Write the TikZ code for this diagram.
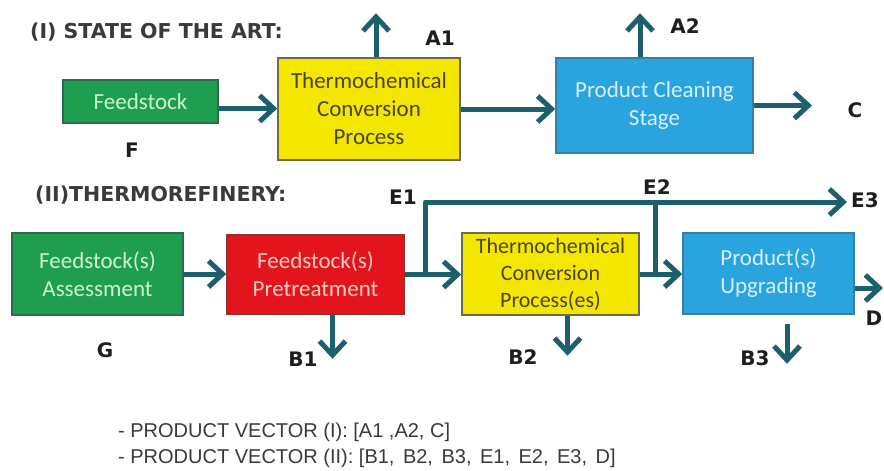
\documentclass[tikz,border=0pt]{standalone}
\usepackage{fontspec}
\setmainfont{DejaVu Sans}
\newfontfamily\boxfont{Carlito}
\newfontfamily\vecfont{Liberation Sans}
\usetikzlibrary{arrows.meta,calc}
\definecolor{arrc}{HTML}{1D5F6C}
\definecolor{labc}{HTML}{1E1E1E}
\definecolor{titc}{HTML}{3A3A3A}
\definecolor{gfill}{HTML}{1F9E50}
\definecolor{gdraw}{HTML}{2E6A50}
\definecolor{gtext}{HTML}{CDF3CF}
\definecolor{yfill}{HTML}{F3E700}
\definecolor{ydraw}{HTML}{6E6A4A}
\definecolor{ytext}{HTML}{4A4420}
\definecolor{rfill}{HTML}{E3141C}
\definecolor{rdraw}{HTML}{8C3434}
\definecolor{rtext}{HTML}{F8CCC4}
\definecolor{bfill}{HTML}{2AA4DF}
\definecolor{bdraw}{HTML}{3A7EA2}
\definecolor{btext}{HTML}{D6F0FF}
\begin{document}
\begin{tikzpicture}[x=1pt,y=-1pt,
  box/.style={draw, line width=1.5pt, align=center, inner sep=0pt,
    font=\boxfont\fontsize{23}{28}\selectfont},
  gbox/.style={box, fill=gfill, draw=gdraw, text=gtext},
  ybox/.style={box, fill=yfill, draw=ydraw, text=ytext},
  rbox/.style={box, fill=rfill, draw=rdraw, text=rtext},
  bbox/.style={box, fill=bfill, draw=bdraw, text=btext},
  lbl/.style={font=\bfseries\fontsize{20}{22}\selectfont, text=labc, inner sep=0pt},
  ttl/.style={font=\bfseries\fontsize{20.5}{24}\selectfont, text=titc, inner sep=0pt, anchor=west},
  vec/.style={font=\vecfont\fontsize{20}{24}\selectfont, text=titc, inner sep=0pt, anchor=west},
  flow/.style={draw=arrc, line width=5pt, line join=round, -{Straight Barb[length=14pt,width=26pt]}},
  plain/.style={draw=arrc, line width=5pt},
]
\useasboundingbox (0,0) rectangle (884,471);
\fill[white] (0,0) rectangle (884,471);

% ---------- (I) ----------
\node[ttl] (t1) at (30,32) {(I) STATE OF THE ART:};
\node[gbox, minimum width=155pt, minimum height=43pt] (fs1) at (140.5,101.5) {Feedstock};
\node[ybox, minimum width=182pt, minimum height=102pt] (tc1) at (369,109) {Thermochemical\\Conversion\\Process};
\node[bbox, minimum width=197pt, minimum height=95pt] (pc1) at (654.5,105.5) {Product Cleaning\\Stage};

\coordinate (f1) at ($(fs1.east)+(0,7)$);
\draw[flow] (f1) -- (f1 -| tc1.west);
\draw[flow] (tc1.east) -- (tc1.east -| pc1.west);
\coordinate (cend) at (812,106);
\draw[flow] (pc1.east) -- (pc1.east -| cend);
\draw[flow] ([xshift=7pt]tc1.north) -- ++(0,-44);
\draw[flow] ([xshift=-14.5pt]pc1.north) -- ++(0,-44);

\node[lbl] (lF) at (132,150) {F};
\node[lbl] (lA1) at (440,38) {A1};
\node[lbl] (lA2) at (685,26) {A2};
\node[lbl] (lC) at (855,110) {C};

% ---------- (II) ----------
\node[ttl] (t2) at (35,195) {(II)THERMOREFINERY:};
\node[gbox, minimum width=171pt, minimum height=82pt] (ga) at (97.5,274) {Feedstock(s)\\Assessment};
\node[rbox, minimum width=177pt, minimum height=79pt] (rp) at (315.5,274.5) {Feedstock(s)\\Pretreatment};
\node[ybox, minimum width=177pt, minimum height=82pt, font=\boxfont\fontsize{22}{27}\selectfont] (tc2) at (550.5,274) {Thermochemical\\Conversion\\Process(es)};
\node[bbox, minimum width=171pt, minimum height=81pt] (pu) at (768.5,273.5) {Product(s)\\Upgrading};

\draw[flow] (ga.east) -- (ga.east -| rp.west);
\draw[flow] (rp.east) -- (rp.east -| tc2.west);
\draw[flow] (tc2.east) -- (tc2.east -| pu.west);

\coordinate (e1b) at ($(rp.east)+(21,0)$);
\coordinate (e3) at (847,202);
\draw[flow] (e1b) |- (e3);
\coordinate (e2t) at (655,202);
\coordinate (e2b) at (655,272);
\draw[plain] (e2t) -- (e2b);

\draw[flow] ([xshift=17pt]rp.south) -- ++(0,44);
\draw[flow] ([xshift=17pt]tc2.south) -- ++(0,40);
\draw[flow] ($(pu.south)+(18.5,9)$) -- ++(0,40);
\coordinate (dend) at (883,288);
\draw[flow] (pu.east |- dend) -- (dend);

\node[lbl] (lE1) at (403,197) {E1};
\node[lbl] (lE2) at (657,187) {E2};
\node[lbl] (lE3) at (865,200) {E3};
\node[lbl] (lG) at (105,350) {G};
\node[lbl] (lB1) at (303,359) {B1};
\node[lbl] (lB2) at (523,357) {B2};
\node[lbl] (lB3) at (755,358) {B3};
\node[lbl] (lD) at (874,318) {D};

% ---------- vectors ----------
\node[vec] (v1) at (118,432) {- PRODUCT VECTOR (I):\ [A1 ,A2, C]};
\node[vec] (v2) at (118,458) {- PRODUCT VECTOR (II): {\spaceskip=8.5pt [B1, B2, B3, E1, E2, E3, D]}};
\end{tikzpicture}
\end{document}
